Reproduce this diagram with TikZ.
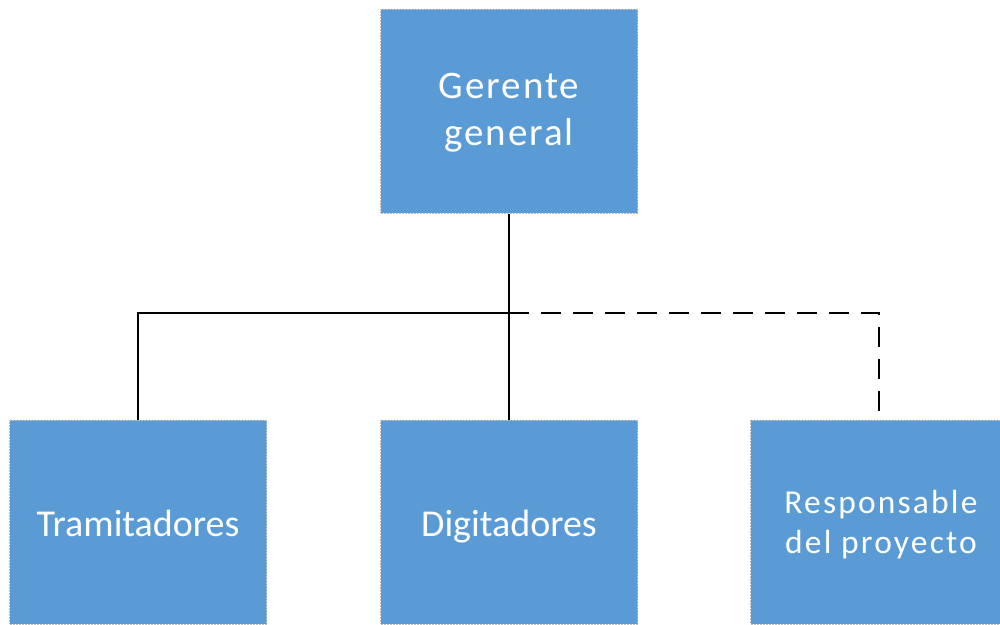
\documentclass[tikz,border=0pt]{standalone}
\usepackage{fontspec}
\setmainfont{Carlito}
\newfontfamily\spacedfont[LetterSpace=5]{Carlito}
\newfontfamily\spacedfontb[LetterSpace=6.5]{Carlito}
\definecolor{boxblue}{HTML}{5B9BD5}
\definecolor{boxedge}{HTML}{BFBFBF}
\begin{document}
\begin{tikzpicture}[x=1pt,y=-1pt,
  orgbox/.style={draw=boxedge,line width=1pt,dash pattern=on 2pt off 1pt,fill=boxblue,minimum width=257pt,minimum height=204pt,inner sep=0pt},
  boxtext/.style={text=white,inner sep=0pt,align=center,anchor=base},
  conn/.style={line width=2pt,black},
  dconn/.style={line width=2pt,black,dash pattern=on 20pt off 12pt}]
\useasboundingbox (0,0) rectangle (1000,624);
\clip (0,0) rectangle (1000,624);
\node[orgbox] (g) at (509,111) {};
\node[orgbox] (t) at (138,522) {};
\node[orgbox] (d) at (509,522) {};
\node[orgbox,minimum width=258pt] (r) at (879.5,522) {};
\node[boxtext,font=\spacedfont\fontsize{39}{47}\selectfont] (gt) at (509,145.3) {Gerente\\general};
\node[boxtext,font=\fontsize{38}{46}\selectfont] (tt) at (138,536) {Tramitadores};
\node[boxtext,font=\fontsize{38}{46}\selectfont] (dt) at (509,536) {Digitadores};
\node[boxtext,font=\spacedfontb\fontsize{33.5}{40}\selectfont] (rt) at (881,553.3) {Responsable\\del proyecto};
\coordinate (h) at (509,313);
\draw[conn] (g.south) -- (d.north);
\draw[conn] (h) -| (t.north);
\draw[dconn] (h) -| ([xshift=-0.5pt]r.north);
\end{tikzpicture}
\end{document}
